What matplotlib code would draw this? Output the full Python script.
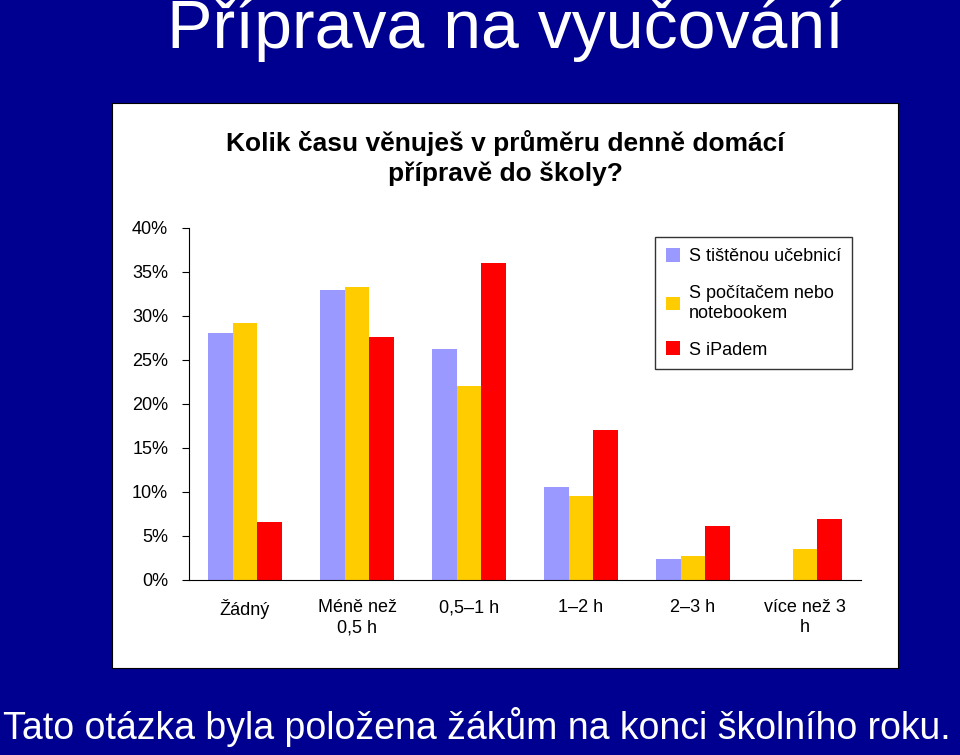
import matplotlib
matplotlib.use("Agg")
import matplotlib.pyplot as plt
import numpy as np

categories = ["Žádný", "Méně než\n0,5 h", "0,5–1 h", "1–2 h", "2–3 h", "více než 3\nh"]
series_names = ["S tištěnou učebnicí", "S počítačem nebo\nnotebookem", "S iPadem"]
ucebnice = [28.1, 33.0, 26.3, 10.6, 2.4, 0.0]
pocitac = [29.2, 33.3, 22.0, 9.5, 2.7, 3.5]
ipad = [6.6, 27.6, 36.0, 17.0, 6.1, 6.9]
colors = ["#9999FF", "#FFCC00", "#FF0000"]

fig = plt.figure(figsize=(9.6, 7.55), dpi=100)
fig.patch.set_facecolor("#000090")
bg = fig.add_axes([112/960, 1-668/755, (898-112)/960, (668-103)/755])
bg.set_xticks([]); bg.set_yticks([])
bg.set_facecolor("white")
bg.set_zorder(0)

fig.text(0.527, 1-30/755, "Příprava na vyučování", color="white", fontsize=49,
         ha="center", va="center", family="Liberation Sans")
fig.text(0.497, 1-727/755, "Tato otázka byla položena žákům na konci školního roku.", color="white",
         fontsize=27, ha="center", va="center", family="Liberation Sans")
fig.text(505/960, 1-158/755, "Kolik času věnuješ v průměru denně domácí\npřípravě do školy?",
         ha="center", va="center", fontsize=19, fontweight="bold", family="Liberation Sans",
         linespacing=1.3, zorder=5)

ax = fig.add_axes([189/960, 1-580/755, 672/960, 352/755])
ax.set_zorder(2)
ax.set_facecolor("none")
x = np.arange(len(categories))
w = 0.223
for i, (vals, c, n) in enumerate(zip([ucebnice, pocitac, ipad], colors, series_names)):
    ax.bar(x + (i-1)*w, vals, w, color=c, label=n)
ax.set_xlim(-0.5, 5.5)
ax.set_ylim(0, 40)
ax.set_yticks(range(0, 41, 5))
ax.set_yticklabels([f"{v}%" for v in range(0, 41, 5)], family="Liberation Sans", fontsize=13)
ax.set_xticks(x)
ax.set_xticklabels(categories, family="Liberation Sans", fontsize=13)
ax.tick_params(axis="x", length=0, pad=14)
ax.tick_params(axis="y", length=5, direction="out", pad=10)
ax.spines["top"].set_visible(False)
ax.spines["right"].set_visible(False)
leg = ax.legend(loc="upper right", bbox_to_anchor=(1.0, 1.0), frameon=True, fancybox=False,
                prop={"family": "Liberation Sans", "size": 13}, handlelength=0.8, handleheight=0.8,
                labelspacing=1.1, borderpad=0.6, handletextpad=0.5)
leg.get_frame().set_edgecolor("black")
fig.savefig("out.png", dpi=100, facecolor=fig.get_facecolor())
